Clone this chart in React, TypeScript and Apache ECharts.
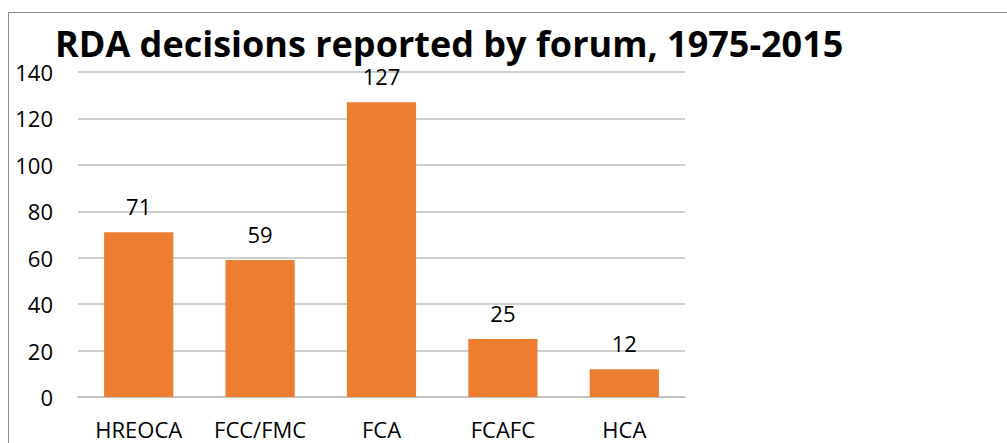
import React, { useEffect, useRef } from "react";
import * as echarts from "echarts";

const categories = ["HREOCA", "FCC/FMC", "FCA", "FCAFC", "HCA"];
const values = [71, 59, 127, 25, 12];
const titleText = "RDA decisions reported by forum, 1975-2015";

export default function App() {
  const ref = useRef<HTMLDivElement>(null);
  useEffect(() => {
    const chart = echarts.init(ref.current!, null, { renderer: "svg" });
    const font = "'Open Sans', sans-serif";
    chart.setOption({
      animation: false,
      backgroundColor: "#ffffff",
      title: {
        text: titleText,
        left: 50,
        top: 20,
        textStyle: { fontFamily: font, fontWeight: "bold", fontSize: 36, color: "#000" },
      },
      graphic: [
        {
          type: "rect",
          shape: { x: 8.5, y: 12.5, width: 1100, height: 600 },
          style: { fill: "none", stroke: "#8c8c8c", lineWidth: 1 },
          silent: true,
          z: -1,
        },
      ],
      grid: { left: 78, right: 322, top: 72, bottom: 46, containLabel: false },
      xAxis: {
        type: "category",
        data: categories,
        axisTick: { show: false },
        axisLine: { lineStyle: { color: "#bfbfbf", width: 1.5 } },
        axisLabel: { fontFamily: font, fontSize: 22, color: "#000", margin: 21 },
      },
      yAxis: {
        type: "value",
        min: 0,
        max: 140,
        interval: 20,
        axisLine: { show: false },
        axisTick: { show: false },
        splitLine: { lineStyle: { color: "#bfbfbf", width: 1.5 } },
        axisLabel: { fontFamily: font, fontSize: 22, color: "#000", margin: 25 },
      },
      series: [
        {
          type: "bar",
          data: values,
          barWidth: "57%",
          itemStyle: { color: "#ED7D31" },
          label: {
            show: true,
            position: "top",
            distance: 15,
            fontFamily: font,
            fontSize: 22,
            color: "#000",
          },
        },
      ],
    });
    return () => chart.dispose();
  }, []);
  return (
    <div
      ref={ref}
      style={{ position: "fixed", left: 0, top: 0, width: 1007, height: 443 }}
    />
  );
}
